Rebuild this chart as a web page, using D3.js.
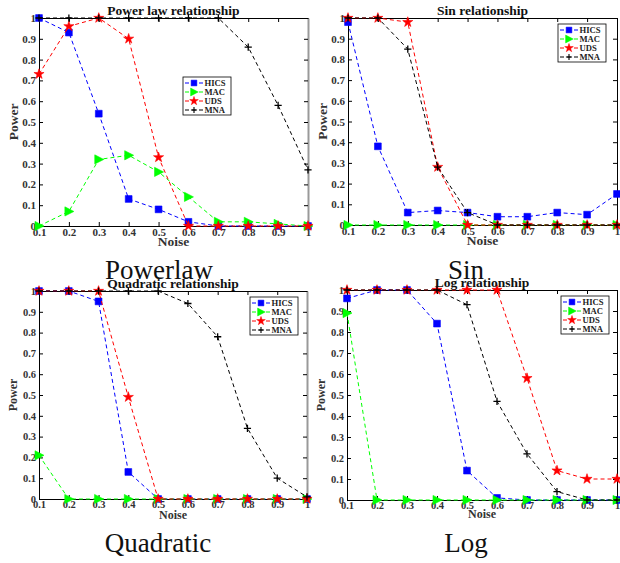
<!DOCTYPE html>
<html>
<head>
<meta charset="utf-8">
<script src="https://cdn.jsdelivr.net/npm/d3@7"></script>
<style>
  body { margin: 0; background: #fff; }
  svg { display: block; }
  text { font-family: "Liberation Serif", "DejaVu Serif", "Times New Roman", serif; }
  .tick text { font-weight: bold; fill: #333; }
</style>
</head>
<body>
<svg id="chart" width="620" height="563"></svg>
<script>
const noise = [0.1, 0.2, 0.3, 0.4, 0.5, 0.6, 0.7, 0.8, 0.9, 1];
const yTicks = [0, 0.1, 0.2, 0.3, 0.4, 0.5, 0.6, 0.7, 0.8, 0.9, 1];
const methods = ["HICS", "MAC", "UDS", "MNA"];

const powerlawHICS = [1, 0.93, 0.54, 0.13, 0.08, 0.02, 0, 0, 0, 0];
const powerlawMAC = [0, 0.07, 0.32, 0.34, 0.26, 0.14, 0.02, 0.02, 0.01, 0];
const powerlawUDS = [0.73, 0.96, 1, 0.9, 0.33, 0, 0, 0, 0, 0];
const powerlawMNA = [1, 1, 1, 1, 1, 1, 1, 0.86, 0.58, 0.27];

const sinHICS = [0.98, 0.38, 0.06, 0.07, 0.06, 0.04, 0.04, 0.06, 0.05, 0.15];
const sinMAC = [0, 0, 0, 0, 0, 0, 0, 0, 0, 0];
const sinUDS = [1, 1, 0.98, 0.28, 0, 0, 0, 0, 0, 0];
const sinMNA = [1, 1, 0.85, 0.28, 0.06, 0, 0, 0, 0, 0];

const quadHICS = [1, 1, 0.95, 0.13, 0, 0, 0, 0, 0, 0];
const quadMAC = [0.21, 0, 0, 0, 0, 0, 0, 0, 0, 0];
const quadUDS = [1, 1, 1, 0.49, 0, 0, 0, 0, 0, 0];
const quadMNA = [1, 1, 1, 1, 1, 0.94, 0.78, 0.34, 0.1, 0.01];

const logHICS = [0.96, 1, 1, 0.84, 0.14, 0.01, 0, 0, 0, 0];
const logMAC = [0.89, 0, 0, 0, 0, 0, 0, 0, 0, 0];
const logUDS = [1, 1, 1, 1, 1, 1, 0.58, 0.14, 0.1, 0.1];
const logMNA = [1, 1, 1, 1, 0.93, 0.47, 0.22, 0.04, 0, 0];

const colors = { HICS: "#0000ff", MAC: "#00ff00", UDS: "#ff0000", MNA: "#000000" };
const serif = '"Liberation Serif", "DejaVu Serif", "Times New Roman", serif';

const svg = d3.select("#chart");

// marker shapes
const square = d3.symbol().type(d3.symbolSquare).size(46)();
const star = d3.symbol().type(d3.symbolStar).size(32)();
const triRight = "M-4,-4.6L5,0L-4,4.6Z";
const plus = "M-3.6,0H3.6M0,-3.6V3.6";

function drawMarker(sel, name) {
  if (name === "MNA") {
    sel.append("path").attr("d", plus).attr("stroke", "#000").attr("stroke-width", 1.3).attr("fill", "none");
  } else {
    const d = name === "HICS" ? square : name === "MAC" ? triRight : star;
    sel.append("path").attr("d", d).attr("fill", colors[name]).attr("stroke", colors[name]).attr("stroke-width", 0.6);
  }
}

function drawPanel(p) {
  const g = svg.append("g").attr("transform", `translate(${p.left},${p.top})`);
  const x = d3.scaleLinear().domain([0.1, 1]).range([0, p.width]);
  const y = d3.scaleLinear().domain([0, 1]).range([p.height, 0]);

  const fmt = (d) => (d === 0 ? "0" : d === 1 ? "1" : d3.format(".1f")(d));

  g.append("g")
    .attr("transform", `translate(0,${p.height})`)
    .call(d3.axisBottom(x).tickValues(noise).tickFormat(fmt).tickSizeInner(-4).tickSizeOuter(0).tickPadding(2))
    .call((a) => a.selectAll("text").attr("font-size", p.tickFont).attr("font-family", serif));
  g.append("g")
    .call(d3.axisLeft(y).tickValues(yTicks).tickFormat(fmt).tickSizeInner(-4).tickSizeOuter(0).tickPadding(3))
    .call((a) => a.selectAll("text").attr("font-size", p.tickFont).attr("font-family", serif));
  g.append("g")
    .call(d3.axisTop(x).tickValues(noise).tickFormat("").tickSizeInner(-4).tickSizeOuter(0));
  g.append("g")
    .attr("transform", `translate(${p.width},0)`)
    .call(d3.axisRight(y).tickValues(yTicks).tickFormat("").tickSizeInner(-4).tickSizeOuter(0))
    .call((a) => a.select(".domain").attr("stroke", p.rightColor || "#000").attr("stroke-width", p.rightColor ? 2 : 1));
  g.selectAll("g").attr("font-family", serif);

  const line = d3.line().x((d, i) => x(noise[i])).y((d) => y(d));

  methods.forEach((m, k) => {
    const vals = p.series[k];
    g.append("path")
      .datum(vals)
      .attr("d", line)
      .attr("fill", "none")
      .attr("stroke", colors[m])
      .attr("stroke-width", 1)
      .attr("stroke-dasharray", "4,3");
    vals.forEach((v, i) => {
      const mk = g.append("g").attr("transform", `translate(${x(noise[i])},${y(v)})`);
      drawMarker(mk, m);
    });
  });

  // title
  g.append("text")
    .attr("x", p.width / 2)
    .attr("y", -3)
    .attr("text-anchor", "middle")
    .attr("font-family", serif)
    .attr("font-weight", "bold")
    .attr("font-size", 13.5)
    .attr("fill", "#111")
    .text(p.title);

  // axis labels
  g.append("text")
    .attr("x", p.width / 2)
    .attr("y", p.height + p.noiseDy)
    .attr("text-anchor", "middle")
    .attr("font-family", serif)
    .attr("font-weight", "bold")
    .attr("font-size", p.labelFont)
    .attr("fill", "#333")
    .text("Noise");
  g.append("text")
    .attr("transform", `translate(${p.powerX},${p.height / 2}) rotate(-90)`)
    .attr("text-anchor", "middle")
    .attr("font-family", serif)
    .attr("font-weight", "bold")
    .attr("font-size", p.labelFont)
    .attr("fill", "#333")
    .text("Power");

  // legend
  const lg = g.append("g").attr("transform", `translate(${p.legend[0]},${p.legend[1]})`);
  lg.append("rect").attr("width", 48).attr("height", 38).attr("fill", "#fff").attr("stroke", "#000").attr("stroke-width", 0.8);
  methods.forEach((m, k) => {
    const ry = 6 + k * 9;
    lg.append("line")
      .attr("x1", 2).attr("x2", 20).attr("y1", ry).attr("y2", ry)
      .attr("stroke", colors[m]).attr("stroke-width", 1).attr("stroke-dasharray", "4,3");
    const mk = lg.append("g").attr("transform", `translate(11,${ry}) scale(0.85)`);
    drawMarker(mk, m);
    lg.append("text")
      .attr("x", 21.5).attr("y", ry + 3)
      .attr("font-family", serif)
      .attr("font-weight", "bold")
      .attr("font-size", 8.6)
      .attr("fill", "#222")
      .text(m);
  });

  // caption
  svg.append("text")
    .attr("x", p.capX)
    .attr("y", p.capY)
    .attr("text-anchor", "middle")
    .attr("font-family", serif)
    .attr("font-size", 27)
    .attr("fill", "#111")
    .text(p.caption);
}

drawPanel({
  title: "Power law relationship", caption: "Powerlaw",
  series: [powerlawHICS, powerlawMAC, powerlawUDS, powerlawMNA],
  left: 39, top: 18, width: 269, height: 208,
  legend: [144, 59], tickFont: 11, labelFont: 13.5, noiseDy: 20, powerX: -21,
  capX: 159, capY: 279, rightColor: "#999"
});
drawPanel({
  title: "Sin relationship", caption: "Sin",
  series: [sinHICS, sinMAC, sinUDS, sinMNA],
  left: 348, top: 18, width: 269, height: 207,
  legend: [210, 6], tickFont: 11, labelFont: 13.5, noiseDy: 20, powerX: -21,
  capX: 466, capY: 279
});
drawPanel({
  title: "Quadratic relationship", caption: "Quadratic",
  series: [quadHICS, quadMAC, quadUDS, quadMNA],
  left: 39, top: 291, width: 268, height: 208,
  legend: [211, 6], tickFont: 10.5, labelFont: 12, noiseDy: 20, powerX: -22,
  capX: 158, capY: 552, rightColor: "#999"
});
drawPanel({
  title: "Log relationship", caption: "Log",
  series: [logHICS, logMAC, logUDS, logMNA],
  left: 347, top: 290, width: 270, height: 210,
  legend: [214, 6], tickFont: 10.5, labelFont: 12, noiseDy: 18, powerX: -22,
  capX: 466, capY: 552
});
</script>
</body>
</html>
